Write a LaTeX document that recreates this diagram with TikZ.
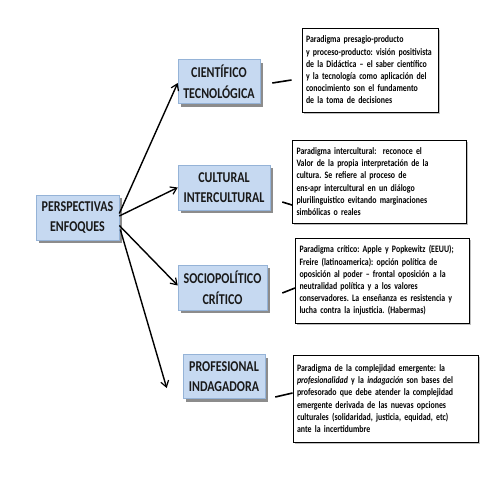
\documentclass[tikz,border=0pt]{standalone}
\usepackage{fontspec}
\setmainfont{Carlito}[FakeStretch=0.8]
\usetikzlibrary{arrows.meta,shadows}
\definecolor{boxfill}{HTML}{C6D9F1}
\definecolor{boxline}{HTML}{95B3D7}
\definecolor{shadowgrey}{HTML}{8C8C8C}
\newcommand{\descsetup}{\frenchspacing\hyphenpenalty=10000\relax}
\tikzset{
  catbox/.style={draw=boxline, line width=0.6pt, fill=boxfill, align=center,
    font=\fontsize{15}{20.5}\selectfont\bfseries, text=black!90, inner sep=0pt,
    drop shadow={shadow xshift=3pt, shadow yshift=-3pt, fill=shadowgrey, opacity=1}},
  descbox/.style={draw=black, line width=1pt, fill=white, align=left, inner xsep=4pt, inner ysep=0pt,
    font=\fontsize{9.8}{12.2}\selectfont\bfseries, text=black,
    execute at begin node=\descsetup,
    drop shadow={shadow xshift=1.5pt, shadow yshift=-1.5pt, fill=black!25, opacity=1}},
  arr/.style={line width=1.4pt, -{Straight Barb[length=6pt,width=8pt,line width=1.2pt]}},
  link/.style={line width=1.6pt},
}
\begin{document}
\begin{tikzpicture}[x=1pt,y=-1pt]
\useasboundingbox[fill=white] (0,0) rectangle (480,480);
% category boxes
\node[catbox, minimum width=83pt, minimum height=45pt] (pe) at (77.5,217.5) {PERSPECTIVAS\\ENFOQUES};
\node[catbox, minimum width=82pt, minimum height=44pt] (ct) at (219,81.5) {CIENTÍFICO\\TECNOLÓGICA};
\node[catbox, minimum width=92pt, minimum height=45pt] (cu) at (224,187.5) {CULTURAL\\INTERCULTURAL};
\node[catbox, minimum width=89pt, minimum height=45pt] (so) at (222.5,287.5) {SOCIOPOLÍTICO\\CRÍTICO};
\node[catbox, minimum width=82pt, minimum height=44pt] (pr) at (224,376.5) {PROFESIONAL\\INDAGADORA};
% description boxes
\node[descbox, minimum height=84pt, text width=128pt] (b1) at (370,70) {Paradigma presagio-producto\\y proceso-producto: visión positivista\\de la Didáctica – el saber científico\\y la tecnología como aplicación del\\conocimiento son el fundamento\\de la toma de decisiones};
\node[descbox, minimum height=83pt, text width=166pt] (b2) at (379.5,181.5) {Paradigma intercultural:\ \ reconoce el\\Valor de la propia interpretación de la\\cultura. Se refiere al proceso de\\ens-apr intercultural en un diálogo\\plurilinguistico evitando marginaciones\\simbólicas o reales};
\node[descbox, minimum height=85pt, text width=166pt] (b3) at (382.5,280.5) {Paradigma crítico: Apple y Popkewitz (EEUU);\\Freire (latinoamerica): opción política de\\oposición al poder – frontal oposición a la\\neutralidad política y a los valores\\conservadores. La enseñanza es resistencia y\\lucha contra la injusticia. (Habermas)};
\node[descbox, minimum height=87pt, text width=177pt] (b4) at (385.5,398.5) {Paradigma de la complejidad emergente: la\\\textit{profesionalidad} y la \textit{indagación} son bases del\\profesorado que debe atender la complejidad\\emergente derivada de las nuevas opciones\\culturales (solidaridad, justicia, equidad, etc)\\ante la incertidumbre};
% arrows
\draw[arr] ([yshift=4pt]pe.east) -- ([yshift=-1.5pt]ct.west);
\draw[arr] ([yshift=1.5pt]pe.east) -- (cu.west);
\draw[arr] ([yshift=-8pt]pe.east) -- ([yshift=2pt]so.west);
\draw[arr] ([xshift=1pt,yshift=-12pt]pe.east) -- ([xshift=-16pt,yshift=-11.5pt]pr.west);
% links
\draw[link] ([xshift=12pt,yshift=-1.5pt]ct.east) -- ([xshift=-10pt,yshift=-10pt]b1.west);
\draw[link] ([xshift=12pt,yshift=-14.5pt]cu.east) -- ([yshift=-23.5pt]b2.west);
\draw[link] ([xshift=15pt,yshift=-5.5pt]so.east) -- ([yshift=-7.5pt]b3.west);
\draw[link] ([xshift=10pt,yshift=-20.5pt]pr.east) -- ([yshift=5.5pt]b4.west);
\end{tikzpicture}
\end{document}
